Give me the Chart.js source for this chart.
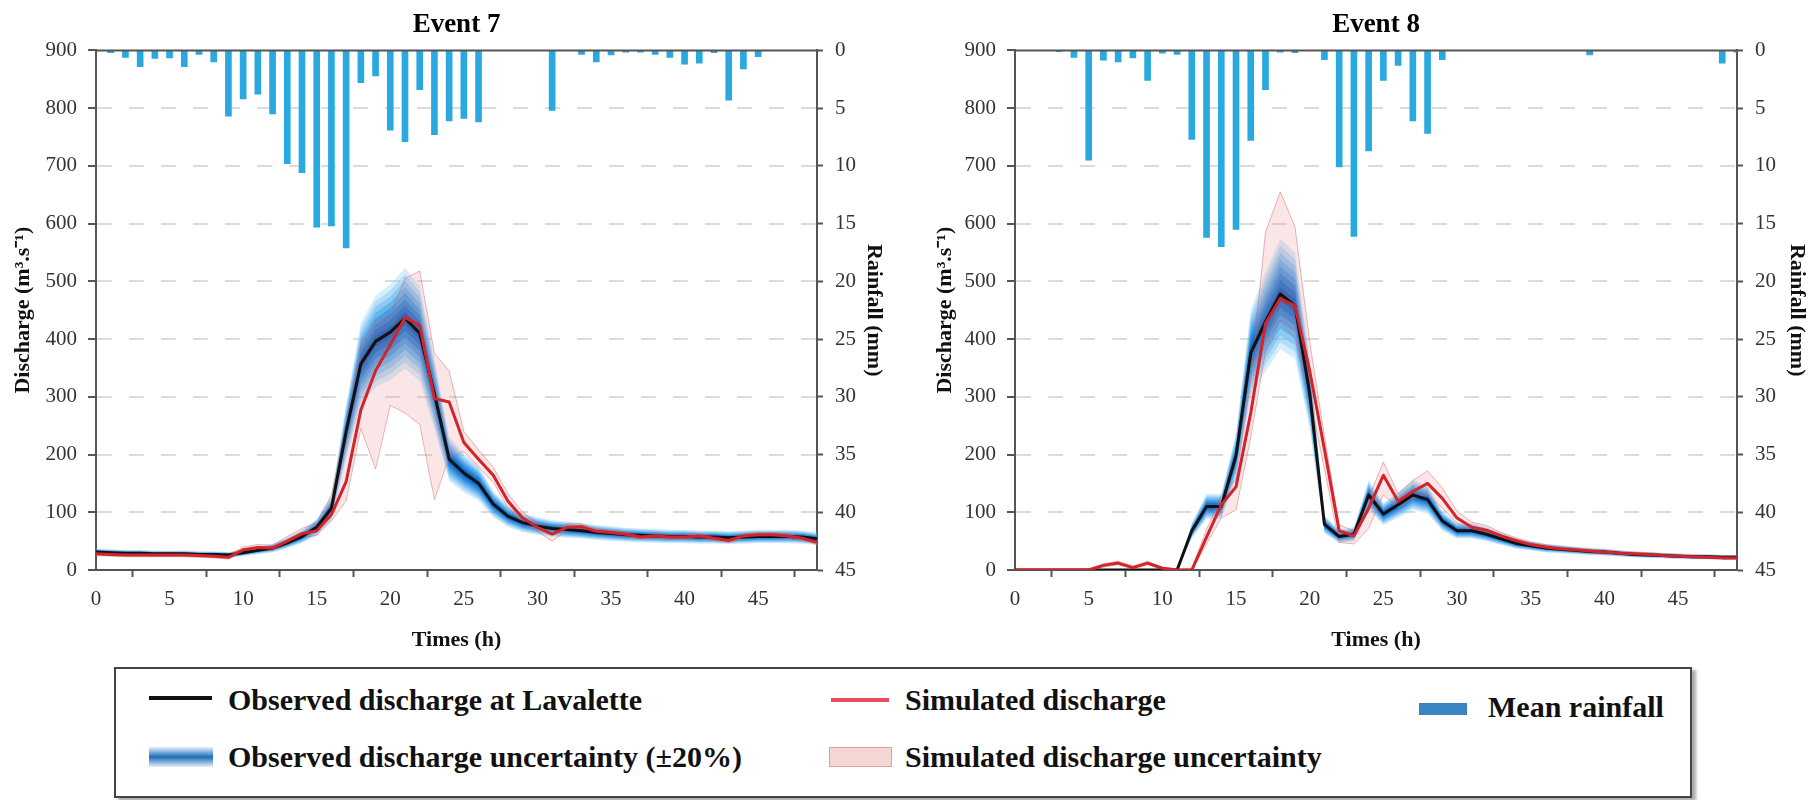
<!DOCTYPE html>
<html>
<head>
<meta charset="utf-8">
<script src="https://cdn.jsdelivr.net/npm/chart.js@4.4.1/dist/chart.umd.min.js"></script>
<style>
  html, body { margin: 0; padding: 0; background: #fff; }
  body { width: 1811px; height: 800px; position: relative; overflow: hidden; font-family: "Liberation Serif", "Times New Roman", serif; }
  canvas { position: absolute; top: 0; }
  #event7 { left: 0; }
  #event8 { left: 905px; }
  .legend { position: absolute; left: 114px; top: 667px; width: 1574px; height: 127px; border: 2px solid #444; box-shadow: 4px 3px 3px #aaa; background: #fff; }
  .sw { position: absolute; }
  .txt { position: absolute; font-weight: bold; font-size: 30px; line-height: 30px; color: #111; white-space: nowrap; }
</style>
</head>
<body>
<canvas id="event7" width="905" height="660"></canvas>
<canvas id="event8" width="906" height="660"></canvas>

<div class="legend">
  <div class="sw" style="left:33px; top:27px; width:63px; height:4px; background:#111;"></div>
  <div class="txt" style="left:112px; top:16px;">Observed discharge at Lavalette</div>
  <div class="sw" style="left:33px; top:78px; width:64px; height:20px; background:linear-gradient(to bottom, rgba(90,160,225,0.15), #1f6db8 50%, rgba(90,160,225,0.15));"></div>
  <div class="txt" style="left:112px; top:73px;">Observed discharge uncertainty (±20%)</div>
  <div class="sw" style="left:715px; top:29px; width:58px; height:4px; background:#e5505a;"></div>
  <div class="txt" style="left:789px; top:16px;">Simulated discharge</div>
  <div class="sw" style="left:713px; top:78px; width:61px; height:18px; background:rgba(240,205,200,0.8); border:1px solid rgba(220,120,120,0.6);"></div>
  <div class="txt" style="left:789px; top:73px;">Simulated discharge uncertainty</div>
  <div class="sw" style="left:1303px; top:34px; width:48px; height:12px; background:#3a86c4;"></div>
  <div class="txt" style="left:1372px; top:23px;">Mean rainfall</div>
</div>

<script>
// time axis (h)
const HOURS = [0, 1, 2, 3, 4, 5, 6, 7, 8, 9, 10, 11, 12, 13, 14, 15, 16, 17, 18, 19,
  20, 21, 22, 23, 24, 25, 26, 27, 28, 29, 30, 31, 32, 33, 34, 35, 36, 37, 38, 39,
  40, 41, 42, 43, 44, 45, 46, 47, 48, 49];

// Event 7
const EV7_OBS = [31, 30, 29, 29, 28, 28, 28, 27, 27, 26, 30, 34, 38, 47, 58, 74, 107, 240, 357, 396,
  412, 436, 410, 305, 192, 168, 150, 114, 93, 82, 76, 72, 70, 68, 65, 63, 61, 60, 59, 58,
  58, 57, 57, 56, 57, 58, 58, 58, 57, 54];
const EV7_SIM = [28, 27, 26, 26, 26, 26, 26, 25, 24, 22, 35, 39, 38, 50, 63, 68, 96, 153, 277, 345,
  390, 437, 424, 297, 291, 221, 192, 164, 119, 90, 74, 62, 74, 75, 67, 65, 62, 57, 59, 57,
  57, 59, 55, 51, 59, 61, 61, 59, 55, 48];
const EV7_SIM_UP = [32, 31, 30, 30, 30, 30, 30, 29, 28, 26, 40, 44, 43, 58, 72, 82, 130, 250, 390, 430,
  440, 505, 518, 375, 345, 240, 208, 178, 132, 100, 82, 72, 80, 80, 71, 69, 66, 61, 63, 61,
  61, 63, 59, 55, 63, 65, 65, 63, 59, 52];
const EV7_SIM_LO = [25, 24, 23, 23, 23, 23, 23, 22, 21, 19, 31, 35, 34, 45, 56, 60, 85, 120, 245, 175,
  285, 272, 252, 122, 195, 205, 178, 152, 108, 82, 67, 50, 68, 70, 63, 61, 58, 53, 55, 53,
  53, 55, 51, 47, 55, 57, 57, 55, 51, 44];
const EV7_RAIN = [0, 0.2, 0.6, 1.4, 0.7, 0.65, 1.4, 0.35, 1.0, 5.7, 4.2, 3.8, 5.5, 9.8, 10.6, 15.3, 15.2, 17.1, 2.8, 2.2,
  6.9, 7.9, 3.4, 7.3, 6.1, 5.9, 6.2, 0, 0, 0, 0, 5.2, 0, 0.35, 1.0, 0.4, 0.15, 0.15, 0.35, 0.6,
  1.2, 1.1, 0.2, 4.3, 1.6, 0.55, 0, 0, 0, 0];

// Event 8
const EV8_OBS = [0, 0, 0, 0, 0, 0, 0, 0, 0, 0, 0, 0, 68, 110, 110, 198, 376, 430, 478, 458,
  306, 79, 58, 62, 130, 97, 113, 130, 122, 85, 68, 68, 62, 54, 46, 42, 38, 36, 34, 32,
  31, 29, 27, 26, 25, 24, 23, 23, 22, 22];
const EV8_SIM = [0, 0, 0, 0, 0, 0, 8, 12, 4, 12, 3, 0, 0, 57, 113, 144, 272, 427, 470, 458,
  345, 209, 68, 59, 107, 164, 119, 136, 150, 124, 90, 74, 69, 59, 51, 44, 40, 37, 35, 33,
  31, 29, 28, 27, 25, 24, 23, 22, 21, 21];
const EV8_SIM_UP = [0, 0, 0, 0, 0, 2, 11, 15, 7, 15, 5, 2, 3, 70, 130, 158, 330, 585, 655, 595,
  395, 232, 78, 68, 125, 187, 132, 155, 172, 142, 102, 83, 77, 65, 56, 48, 44, 40, 38, 36,
  34, 32, 31, 30, 28, 27, 26, 25, 24, 24];
const EV8_SIM_LO = [0, 0, 0, 0, 0, 0, 5, 9, 2, 9, 1, 0, 0, 45, 90, 104, 230, 379, 433, 402,
  300, 175, 48, 45, 72, 130, 107, 124, 130, 107, 81, 68, 62, 54, 47, 41, 37, 34, 32, 30,
  28, 27, 26, 25, 23, 22, 21, 20, 19, 19];
const EV8_RAIN = [0, 0, 0, 0.1, 0.6, 9.5, 0.85, 1.0, 0.65, 2.6, 0.25, 0.35, 7.7, 16.2, 17.0, 15.5, 7.8, 3.4, 0.15, 0.2,
  0, 0.8, 10.1, 16.1, 8.7, 2.6, 1.3, 6.1, 7.2, 0.8, 0, 0, 0, 0, 0, 0, 0, 0, 0, 0.4,
  0, 0, 0, 0, 0, 0, 0, 0, 1.1, 0.15];

// observed uncertainty is +-20% (legend), drawn as nested layers for the gradient
const OBS_ERR = 0.2;
const BLUE_SHADES = [
  "rgba(120,195,245,0.30)", "rgba(90,180,240,0.30)", "rgba(60,160,235,0.32)", "rgba(35,140,225,0.34)",
  "rgba(20,120,215,0.38)", "rgba(10,105,205,0.42)", "rgba(5,90,190,0.48)", "rgba(0,75,175,0.55)",
];

const FONT = "Liberation Serif";
Chart.defaults.font.family = FONT;

// dark frame line along the top of the plot
const frameTop = {
  id: "frameTop",
  afterDraw(chart) {
    const a = chart.chartArea;
    const ctx = chart.ctx;
    ctx.save();
    ctx.strokeStyle = "#555";
    ctx.lineWidth = 2;
    ctx.beginPath();
    ctx.moveTo(a.left, a.top);
    ctx.lineTo(a.right, a.top);
    ctx.stroke();
    ctx.restore();
  },
};

function makeChart(id, title, obs, sim, simUp, simLo, rain, geo) {
  const pts = (arr, k) => HOURS.map((h, i) => ({ x: h, y: arr[i] * (k || 1) }));
  const datasets = [];

  BLUE_SHADES.forEach(function (shade, k) {
    const f = OBS_ERR * (BLUE_SHADES.length - k) / BLUE_SHADES.length;
    datasets.push({ data: pts(obs, 1 + f), fill: "+1", backgroundColor: shade, borderWidth: 0, order: 20 - k });
    datasets.push({ data: pts(obs, 1 - f), fill: false, borderWidth: 0, order: 20 - k });
  });

  datasets.push({ data: pts(simUp), fill: "+1", backgroundColor: "rgba(232,140,140,0.22)", borderColor: "rgba(215,90,90,0.45)", borderWidth: 1, order: 4 });
  datasets.push({ data: pts(simLo), fill: false, borderColor: "rgba(215,90,90,0.45)", borderWidth: 1, order: 4 });
  datasets.push({ data: pts(obs), borderColor: "#111", borderWidth: 3, fill: false, order: 2 });
  datasets.push({ data: pts(sim), borderColor: "#d3232b", borderWidth: 3, fill: false, order: 1 });
  datasets.push({ type: "bar", data: pts(rain), yAxisID: "y2", backgroundColor: "#2aa9e0", barThickness: 6, order: 30 });

  const tickFont = { family: FONT, size: 21 };
  const titleFont = { family: FONT, size: 22, weight: "bold" };

  return new Chart(document.getElementById(id), {
    type: "line",
    data: { datasets: datasets },
    options: {
      responsive: false,
      animation: false,
      devicePixelRatio: 1,
      layout: { padding: { left: 0, right: 0, top: 0, bottom: 6.4 } },
      elements: { point: { radius: 0 }, line: { tension: 0, borderJoinStyle: "round" } },
      plugins: {
        legend: { display: false },
        tooltip: { enabled: false },
        title: {
          display: true,
          text: title,
          fullSize: false,
          color: "#000",
          font: { family: FONT, size: 27, weight: "bold" },
          padding: { top: 9, bottom: 9 },
        },
      },
      scales: {
        x: {
          type: "linear",
          min: 0,
          max: 49,
          offset: false,
          ticks: { stepSize: 5, includeBounds: false, autoSkip: false, maxRotation: 0, font: tickFont, color: "#333", padding: 10 },
          grid: { drawOnChartArea: false, tickLength: 7, tickColor: "#555", tickWidth: 2 },
          border: { color: "#555", width: 2 },
          title: { display: true, text: "Times (h)", color: "#111", font: titleFont, padding: { top: 5, bottom: 0 } },
        },
        y: {
          position: "left",
          min: 0,
          max: 900,
          ticks: { stepSize: 100, font: tickFont, color: "#333", padding: 11 },
          grid: {
            color: (c) => (c.tick && (c.tick.value === 0 || c.tick.value === 900) ? "rgba(0,0,0,0)" : "#dcdcdc"),
            lineWidth: 2,
            tickLength: 8,
            tickColor: "#555",
            tickWidth: 2,
          },
          border: { color: "#555", width: 2, dash: [15, 17] },
          title: { display: true, text: "Discharge (m³.s⁻¹)", color: "#111", font: titleFont, padding: { top: geo.yTitlePad, bottom: 0 } },
          afterFit: (s) => { s.width = geo.yWidth; },
        },
        y2: {
          position: "right",
          reverse: true,
          min: 0,
          max: 45,
          ticks: { stepSize: 5, font: tickFont, color: "#333", padding: 12 },
          grid: { drawOnChartArea: false, tickLength: 6, tickColor: "#555", tickWidth: 2 },
          border: { color: "#555", width: 2 },
          title: { display: true, text: "Rainfall (mm)", color: "#111", font: titleFont, padding: { top: geo.y2TitlePad, bottom: 0 } },
          afterFit: (s) => { s.width = geo.y2Width; },
        },
      },
    },
    plugins: [frameTop],
  });
}

makeChart("event7", "Event 7", EV7_OBS, EV7_SIM, EV7_SIM_UP, EV7_SIM_LO, EV7_RAIN,
  { yWidth: 96, yTitlePad: 10, y2Width: 88, y2TitlePad: 18 });
makeChart("event8", "Event 8", EV8_OBS, EV8_SIM, EV8_SIM_UP, EV8_SIM_LO, EV8_RAIN,
  { yWidth: 110, yTitlePad: 27, y2Width: 74, y2TitlePad: 1 });
</script>
</body>
</html>
